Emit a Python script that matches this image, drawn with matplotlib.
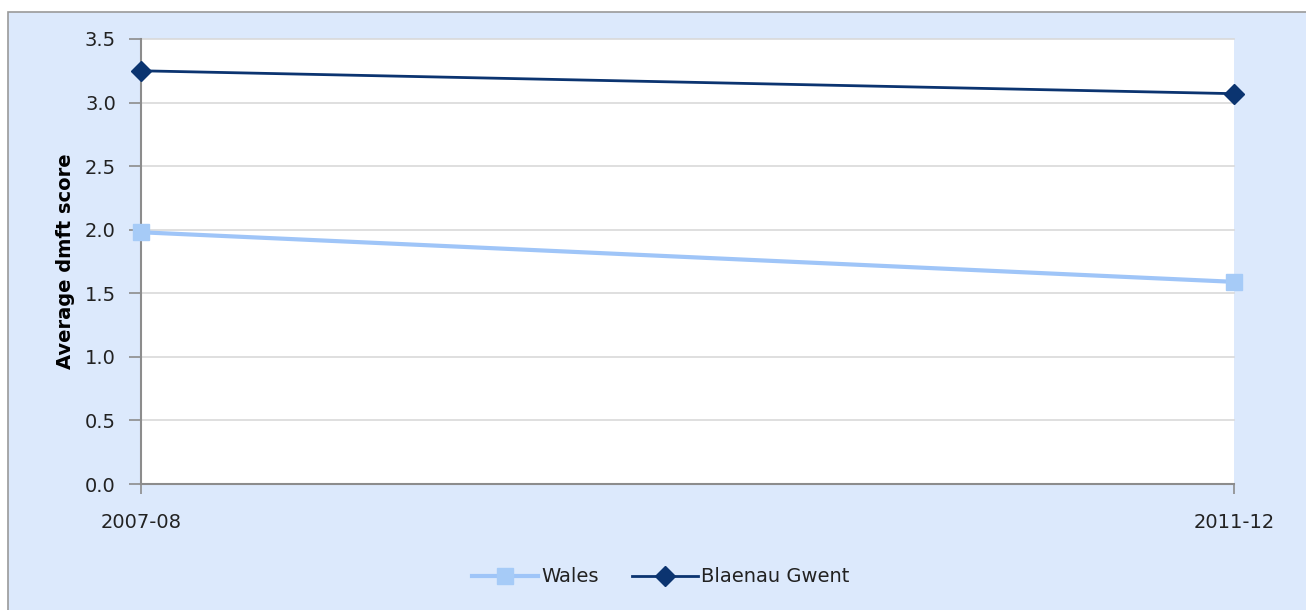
import matplotlib.pyplot as plt
from matplotlib.patches import Rectangle

years = ['2007-08', '2011-12']
wales = [1.98, 1.59]
blaenau_gwent = [3.25, 3.07]
y_ticks = [0.0, 0.5, 1.0, 1.5, 2.0, 2.5, 3.0, 3.5]

plt.rcParams['font.family'] = 'DejaVu Sans'
fs = 14

fig = plt.figure(figsize=(13.06, 6.10), dpi=100)
fig.patch.set_facecolor('white')

# light blue chart area with grey border, cut off at right/bottom
fig.patches.append(Rectangle((8 / 1306, -0.01), 1.02, 1 - 12 / 610 + 0.01,
                             transform=fig.transFigure, facecolor='#dce9fc',
                             edgecolor='#9a9a9a', linewidth=1.2, zorder=-10))

ax = fig.add_axes([141 / 1306, 1 - 484 / 610, 1093 / 1306, 445 / 610])
ax.set_facecolor('white')

x = list(range(len(years)))
ax.plot(x, wales, color='#9fc5f8', linewidth=3, marker='s', markersize=12,
        markerfacecolor='#a6cbf7', markeredgecolor='#a6cbf7', label='Wales',
        clip_on=False, zorder=3)
ax.plot(x, blaenau_gwent, color='#0b3470', linewidth=2, marker='D', markersize=10.5,
        markerfacecolor='#0b3470', markeredgecolor='#0b3470', label='Blaenau Gwent',
        clip_on=False, zorder=4)

ax.set_xlim(0, len(years) - 1)
ax.set_ylim(0, 3.5)
ax.set_yticks(y_ticks)
ax.set_yticklabels([f'{v:.1f}' for v in y_ticks])
ax.set_xticks(x)
ax.set_xticklabels(years)

ax.yaxis.grid(True, color='#d9d9d9', linewidth=1.2, clip_on=False)
ax.set_axisbelow(True)
for side in ['top', 'right']:
    ax.spines[side].set_visible(False)
for side in ['left', 'bottom']:
    ax.spines[side].set_color('#8c8c8c')
    ax.spines[side].set_linewidth(1.5)

ax.tick_params(axis='y', length=9, width=1.2, color='#8c8c8c', labelsize=fs,
               labelcolor='#222222', pad=9)
ax.tick_params(axis='x', length=7, width=1.2, color='#8c8c8c', labelsize=fs,
               labelcolor='#222222', pad=14)

ax.set_ylabel('Average dmft score', fontsize=fs, fontweight='bold', labelpad=7)

leg = fig.legend(loc='center', bbox_to_anchor=(0.506, 1 - 577 / 610), ncol=2,
                 frameon=False, fontsize=fs, handlelength=3.4, columnspacing=1.7,
                 handletextpad=0.15)
for t in leg.get_texts():
    t.set_color('#222222')

fig.savefig('out.png', dpi=100)
